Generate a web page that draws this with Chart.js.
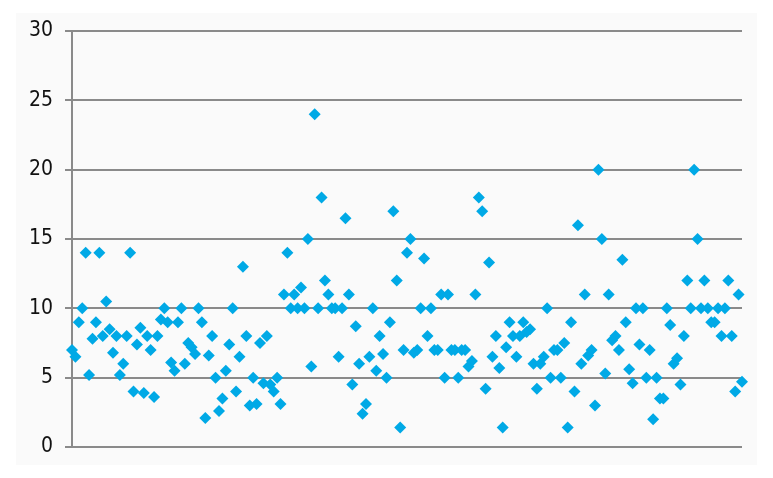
<!DOCTYPE html>
<html>
<head>
<meta charset="utf-8">
<script src="https://cdn.jsdelivr.net/npm/chart.js@4/dist/chart.umd.min.js"></script>
<style>
  html, body { margin: 0; padding: 0; background: #ffffff; }
  #c { display: block; }
</style>
</head>
<body>
<canvas id="c" width="773" height="478"></canvas>
<script>
// Series values, in left-to-right order
const values = [
  7.0, 6.5, 9.0, 10.0, 14.0, 5.2, 7.8, 9.0, 14.0, 8.0,
  10.5, 8.5, 6.8, 8.0, 5.2, 6.0, 8.0, 14.0, 4.0, 7.4,
  8.6, 3.9, 8.0, 7.0, 3.6, 8.0, 9.2, 10.0, 9.0, 6.1,
  5.5, 9.0,
  10.0, 6.0, 7.5, 7.2, 6.7, 10.0, 9.0, 2.1, 6.6, 8.0,
  5.0, 2.6, 3.5, 5.5, 7.4, 10.0, 4.0, 6.5, 13.0, 8.0,
  3.0, 5.0, 3.1, 7.5, 4.6, 8.0, 4.5, 4.0, 5.0, 3.1,
  11.0, 14.0, 10.0, 11.0, 10.0, 11.5, 10.0, 15.0, 5.8, 24.0,
  10.0, 18.0, 12.0, 11.0, 10.0, 10.0, 6.5, 10.0, 16.5, 11.0,
  4.5, 8.7, 6.0, 2.4, 3.1, 6.5, 10.0, 5.5, 8.0, 6.7,
  5.0, 9.0, 17.0, 12.0, 1.4,
  7.0, 14.0, 15.0, 6.8, 7.0, 10.0, 13.6, 8.0, 10.0, 7.0,
  7.0, 11.0, 5.0, 11.0, 7.0, 7.0, 5.0, 7.0, 7.0, 5.8,
  6.2, 11.0, 18.0, 17.0, 4.2, 13.3, 6.5, 8.0, 5.7, 1.4,
  7.2, 9.0,
  8.0, 6.5, 8.0, 9.0, 8.3, 8.5, 6.0, 4.2, 6.0, 6.5,
  10.0, 5.0, 7.0, 7.0, 5.0, 7.5, 1.4, 9.0, 4.0, 16.0,
  6.0, 11.0, 6.6, 7.0, 3.0, 20.0, 15.0, 5.3, 11.0,
  7.7, 8.0, 7.0, 13.5,
  9.0, 5.6, 4.6, 10.0, 7.4, 10.0, 5.0, 7.0, 2.0, 5.0,
  3.5, 3.5, 10.0, 8.8, 6.0, 6.4, 4.5, 8.0, 12.0, 10.0,
  20.0, 15.0, 10.0, 12.0, 10.0, 9.0, 9.0, 10.0, 8.0, 10.0,
  12.0, 8.0, 4.0, 11.0, 4.7
];
// Categories: one per observation
const categories = values.map((_, i) => String(i + 1));
// Y axis ticks
const yTicks = [0, 5, 10, 15, 20, 25, 30];

const bgPlugin = {
  id: 'panelBg',
  beforeDraw(chart) {
    const ctx = chart.ctx;
    ctx.save();
    ctx.fillStyle = '#fafafa';
    ctx.fillRect(16, 13, 741, 452);
    ctx.restore();
  }
};

const FONT = "'DejaVu Sans Condensed', 'Noto Sans', sans-serif";
const GRID = '#8a8a8a';
const BLUE = '#00a9e6';

new Chart(document.getElementById('c'), {
  type: 'line',
  data: {
    labels: categories,
    datasets: [{
      data: values,
      showLine: false,
      pointStyle: 'rectRot',
      pointRadius: 6,
      pointHoverRadius: 6,
      pointBackgroundColor: BLUE,
      pointBorderColor: BLUE,
      pointBorderWidth: 0,
      clip: false
    }]
  },
  options: {
    responsive: false,
    animation: false,
    events: [],
    layout: { padding: { top: 31, bottom: 31, left: 0, right: 31 } },
    plugins: { legend: { display: false }, tooltip: { enabled: false } },
    scales: {
      x: { display: false, offset: false },
      y: {
        min: yTicks[0],
        max: yTicks[yTicks.length - 1],
        afterBuildTicks: (s) => { s.ticks = yTicks.map(v => ({ value: v })); },
        afterFit: (s) => { s.width = 72; },
        ticks: { padding: 12, color: '#111111', font: { family: FONT, size: 21 } },
        grid: { color: GRID, lineWidth: 2, tickLength: 7 },
        border: { color: GRID, width: 2 }
      }
    }
  },
  plugins: [bgPlugin]
});
</script>
</body>
</html>
